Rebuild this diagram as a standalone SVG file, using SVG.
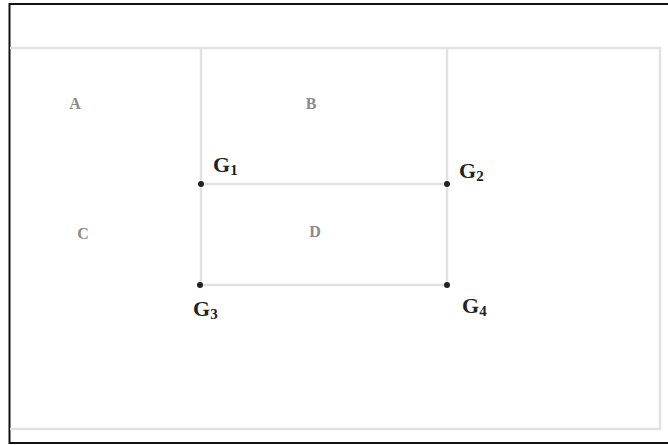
<svg xmlns="http://www.w3.org/2000/svg" width="668" height="445" viewBox="0 0 668 445">
<style>
.frame{fill:none;stroke:#111;stroke-width:2}
.grid{stroke:#e2e2e2;stroke-width:2.5;fill:none}
.region{font-family:"Liberation Serif",serif;font-size:16px;font-weight:bold;fill:#8a8a8a;text-anchor:middle}
.g{font-family:"Liberation Serif",serif;font-size:22px;font-weight:bold;fill:#222}
.sub{font-size:15px}
.dot{fill:#222}
</style>
<rect x="0" y="0" width="668" height="445" fill="#fff"/>
<path class="frame" d="M668 4 H9.5 V443 H668"/>
<g id="connectors">
<path class="grid" d="M10 48 H660 V429 H10"/>
<line class="grid" x1="201" y1="48" x2="201" y2="285"/>
<line class="grid" x1="447" y1="48" x2="447" y2="285"/>
<line class="grid" x1="201" y1="184" x2="447" y2="184"/>
<line class="grid" x1="201" y1="285" x2="447" y2="285"/>
</g>
<g id="A"><text class="region" x="75" y="109">A</text></g>
<g id="B"><text class="region" x="311" y="109">B</text></g>
<g id="C"><text class="region" x="83" y="239">C</text></g>
<g id="D"><text class="region" x="315" y="237">D</text></g>
<g id="G1"><circle class="dot" cx="201" cy="184" r="3"/><text class="g" x="213" y="172">G<tspan class="sub" dy="3">1</tspan></text></g>
<g id="G2"><circle class="dot" cx="447" cy="184" r="3"/><text class="g" x="459" y="178">G<tspan class="sub" dy="3">2</tspan></text></g>
<g id="G3"><circle class="dot" cx="200" cy="285" r="3"/><text class="g" x="193" y="316">G<tspan class="sub" dy="3">3</tspan></text></g>
<g id="G4"><circle class="dot" cx="447" cy="285" r="3"/><text class="g" x="462" y="313">G<tspan class="sub" dy="3">4</tspan></text></g>
</svg>
